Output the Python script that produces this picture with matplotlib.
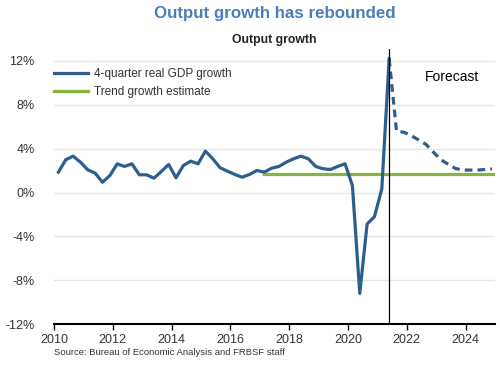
import matplotlib.pyplot as plt
import numpy as np

plt.rcParams['font.family'] = ['Liberation Sans', 'DejaVu Sans']

# 4-quarter real GDP growth, 2010Q1 - 2021Q2 (percent)
gdp_growth = [1.86, 2.99, 3.32, 2.77, 2.07, 1.77, 0.94, 1.55,
              2.62, 2.38, 2.62, 1.62, 1.62, 1.31, 1.92, 2.56,
              1.34, 2.47, 2.86, 2.62, 3.78, 3.08, 2.26, 1.95,
              1.65, 1.40, 1.65, 2.01, 1.86, 2.22, 2.38, 2.77,
              3.08, 3.32, 3.08, 2.38, 2.17, 2.10, 2.38, 2.62,
              0.64, -9.2, -2.87, -2.2, 0.34, 12.2]
# forecast, 2021Q2 - 2024Q4
forecast = [12.2, 5.6, 5.5, 5.2, 4.8, 4.4, 3.7, 3.0, 2.6, 2.2,
            2.05, 2.05, 2.05, 2.1, 2.15]
trend_value = 1.72
trend_start = 2017.15
trend_end = 2025.0
forecast_line = 2021.4

start = 2010.15
x_hist = start + 0.25 * np.arange(len(gdp_growth))
x_fc = x_hist[-1] + 0.25 * np.arange(len(forecast))

blue = '#2D5F8E'
green = '#85B43F'

fig = plt.figure(figsize=(5, 3.65), dpi=100)
ax = fig.add_axes([0.108, 0.112, 0.882, 0.754])

ax.plot(x_hist, gdp_growth, color=blue, lw=2.3, label='4-quarter real GDP growth', zorder=4)
ax.plot(x_fc, forecast, color=blue, lw=2.3, ls=(0, (2.4, 1.6)), zorder=4)
ax.plot([trend_start, trend_end], [trend_value, trend_value], color=green, lw=2.3,
        label='Trend growth estimate', zorder=3)
ax.axvline(forecast_line, color='black', lw=0.9, zorder=5)
ax.text(2022.6, 10.5, 'Forecast', fontsize=10, va='center', ha='left')

ax.set_xlim(2010, 2025)
ax.set_ylim(-12, 13.1)
ax.set_yticks(np.arange(-12, 13, 4))
ax.set_yticklabels(['%d%%' % v for v in range(-12, 13, 4)])
ax.set_xticks(range(2010, 2025, 2))
ax.grid(axis='y', color='#e6e6e6', lw=1)
ax.set_axisbelow(True)
for s in ['top', 'right', 'left']:
    ax.spines[s].set_visible(False)
ax.spines['bottom'].set_linewidth(1.5)
ax.tick_params(axis='y', length=0, pad=14, labelsize=9, colors='#333333')
ax.tick_params(axis='x', length=4, width=1, pad=3, labelsize=9, labelcolor='#333333')

ax.legend(loc='upper left', bbox_to_anchor=(-0.025, 0.97), frameon=False, fontsize=8.5,
          handlelength=2.9, handletextpad=0.5, labelspacing=0.55, labelcolor='#333333')

fig.text(0.549, 0.962, 'Output growth has rebounded', ha='center', va='center',
         fontsize=12.2, fontweight='bold', color='#4A7EBB')
fig.text(0.549, 0.89, 'Output growth', ha='center', va='center',
         fontsize=8.8, fontweight='bold', color='#222222')
fig.text(0.108, 0.033, 'Source: Bureau of Economic Analysis and FRBSF staff',
         ha='left', va='center', fontsize=6.8, color='#333333')

fig.savefig('out.png', dpi=100)
